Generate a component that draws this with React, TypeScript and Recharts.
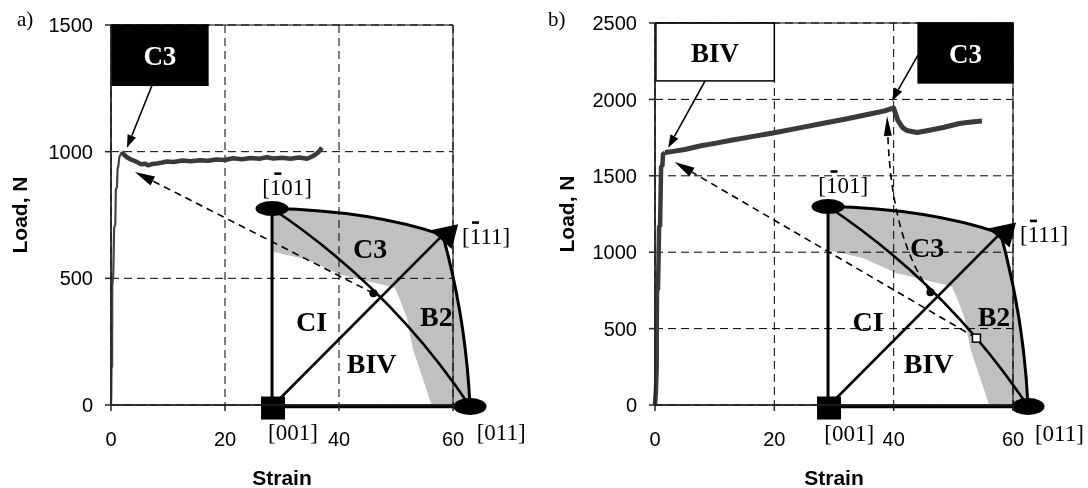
import React from 'react';
import { LineChart, Line, XAxis, YAxis, CartesianGrid, ReferenceArea, Customized } from 'recharts';

type Pt = { strain: number; load: number };

// a) load-strain record, sample oriented for C3
const riseA: Pt[] = [
  { strain: 0, load: 0 },
  { strain: 0.05, load: 40 },
  { strain: 0.08, load: 146 },
  { strain: 0.2, load: 152 },
  { strain: 0.22, load: 470 },
  { strain: 0.38, load: 505 },
  { strain: 0.42, load: 540 },
  { strain: 0.55, load: 700 },
  { strain: 0.75, load: 711 },
  { strain: 0.85, load: 850 },
  { strain: 1.05, load: 861 },
  { strain: 1.15, load: 930 },
  { strain: 1.3, load: 945 },
  { strain: 1.45, load: 978 },
  { strain: 1.9, load: 999 },
];

const flowA: Pt[] = [
  { strain: 1.9, load: 999 },
  { strain: 2.3, load: 988 },
  { strain: 2.8, load: 978 },
  { strain: 3.4, load: 970 },
  { strain: 3.9, load: 966 },
  { strain: 4.6, load: 958 },
  { strain: 5.3, load: 950 },
  { strain: 6.0, load: 952 },
  { strain: 6.5, load: 946 },
  { strain: 7.2, load: 951 },
  { strain: 8.0, load: 953 },
  { strain: 9.0, load: 957 },
  { strain: 9.8, load: 961 },
  { strain: 11, load: 959 },
  { strain: 12.5, load: 965 },
  { strain: 14, load: 962 },
  { strain: 15.6, load: 966 },
  { strain: 17, load: 964 },
  { strain: 18.5, load: 969 },
  { strain: 20, load: 967 },
  { strain: 21.4, load: 974 },
  { strain: 23, load: 970 },
  { strain: 24.5, load: 975 },
  { strain: 26, load: 972 },
  { strain: 27.3, load: 978 },
  { strain: 28.5, load: 973 },
  { strain: 30, load: 976 },
  { strain: 31.5, load: 972 },
  { strain: 33, load: 977 },
  { strain: 34.4, load: 972 },
  { strain: 35.2, load: 980 },
  { strain: 35.8, load: 988 },
  { strain: 36.4, load: 998 },
  { strain: 37, load: 1016 },
];

// b) load-strain record, sample oriented for BIV
const riseB: Pt[] = [
  { strain: 0, load: 0 },
  { strain: 0.15, load: 90 },
  { strain: 0.28, load: 249 },
  { strain: 0.3, load: 500 },
  { strain: 0.34, load: 753 },
  { strain: 0.5, load: 760 },
  { strain: 0.62, load: 1000 },
  { strain: 0.68, load: 1165 },
  { strain: 0.85, load: 1175 },
  { strain: 0.95, load: 1400 },
  { strain: 1.02, load: 1558 },
  { strain: 1.25, load: 1570 },
  { strain: 1.34, load: 1640 },
  { strain: 1.7, load: 1652 },
];

const flowB: Pt[] = [
  { strain: 1.7, load: 1652 },
  { strain: 3, load: 1660 },
  { strain: 5, load: 1672 },
  { strain: 7.5, load: 1695 },
  { strain: 10, load: 1712 },
  { strain: 13, load: 1734 },
  { strain: 16, load: 1755 },
  { strain: 20, load: 1782 },
  { strain: 24, load: 1812 },
  { strain: 28, load: 1842 },
  { strain: 32, load: 1872 },
  { strain: 36, load: 1904 },
  { strain: 38.5, load: 1925 },
  { strain: 40, load: 1944 },
  { strain: 40.7, load: 1862 },
  { strain: 41.5, load: 1815 },
  { strain: 42.2, load: 1796 },
  { strain: 43.9, load: 1783 },
  { strain: 46, load: 1798 },
  { strain: 48.3, load: 1816 },
  { strain: 51, load: 1842 },
  { strain: 53, load: 1852 },
  { strain: 54.8, load: 1858 },
];

const strainTicks = [0, 20, 40, 60];
const loadTicksA = [0, 500, 1000, 1500];
const loadTicksB = [0, 500, 1000, 1500, 2000, 2500];

const SANS = '"Liberation Sans", Arial, sans-serif';
const SERIF = '"Liberation Serif", "Times New Roman", serif';
const GREY = '#c0c0c0';

const W = 544;
const H = 488;

type Box = { left: number; top: number; right: number; bottom: number; xMax: number; yMax: number };
const boxA: Box = { left: 111, top: 25, right: 453, bottom: 405, xMax: 60, yMax: 1500 };
const boxB: Box = { left: 111, top: 23, right: 469, bottom: 405, xMax: 60, yMax: 2500 };

const sx = (b: Box, s: number) => b.left + (s / b.xMax) * (b.right - b.left);
const sy = (b: Box, l: number) => b.bottom - (l / b.yMax) * (b.bottom - b.top);

// stereographic triangle, unit frame: [001]=(0,0), [011]=(1,0), [-101]=(0,1)
const innerEdge = [
  [0.808, 0], [0.763, 0.136], [0.712, 0.288], [0.682, 0.444], [0.646, 0.54],
  [0.62, 0.598], [0.596, 0.606], [0.51, 0.626], [0.343, 0.667], [0.177, 0.742], [0, 0.783],
];
const cornerA = { strain: 28.25, load: -6, size: 198 };
const cornerB = { strain: 29.0, load: -10, size: 200 };

type Frame = { cx: number; cy: number; s: number };
const P = (f: Frame, u: number, v: number): [number, number] => [f.cx + u * f.s, f.cy - v * f.s];
const frameOf = (b: Box, c: { strain: number; load: number; size: number }): Frame => ({
  cx: sx(b, c.strain), cy: sy(b, c.load), s: c.size,
});

function GreyFill({ f }: { f: Frame }) {
  const p0 = P(f, 0, 1);
  const c1 = P(f, 0.5, 0.99);
  const p1 = P(f, 0.862, 0.866);
  const c2 = P(f, 0.979, 0.447);
  const p2 = P(f, 1, 0);
  let d = `M${p0[0]},${p0[1]} Q${c1[0]},${c1[1]} ${p1[0]},${p1[1]} Q${c2[0]},${c2[1]} ${p2[0]},${p2[1]}`;
  innerEdge.forEach(([u, v]) => {
    const q = P(f, u, v);
    d += ` L${q[0]},${q[1]}`;
  });
  d += ' Z';
  return <path d={d} fill={GREY} stroke="none" style={{ mixBlendMode: 'multiply' }} />;
}

function Miller({ x, y, text, anchor, barShift }: { x: number; y: number; text: string; anchor: 'start' | 'middle'; barShift: number }) {
  const fs = 23;
  return (
    <g>
      <text x={x} y={y} fontFamily={SERIF} fontSize={fs} textAnchor={anchor} fill="#000">{text}</text>
      <rect x={x + barShift * fs - 3.5} y={y - 0.97 * fs} width={7} height={2.6} fill="#000" />
    </g>
  );
}

function Triangle({ f }: { f: Frame }) {
  const p = (u: number, v: number) => P(f, u, v);
  const [ax, ay] = p(0, 0);
  const [bx, by] = p(1, 0);
  const [tx, ty] = p(0, 1);
  const [kx, ky] = p(0.862, 0.866);
  const c1 = p(0.5, 0.99);
  const c2 = p(0.979, 0.447);
  const c3 = p(0.6, 0.6);
  const tri = [p(0.8, 0.89), p(0.94, 0.92), p(0.908, 0.795)];
  const dot = p(0.512, 0.572);
  const big = { fontFamily: SERIF, fontWeight: 700, fontSize: 28, textAnchor: 'middle' as const, fill: '#000' };
  const lbl = (u: number, v: number) => p(u, v);
  return (
    <g>
      <path d={`M${tx},${ty} Q${c1[0]},${c1[1]} ${kx},${ky}`} fill="none" stroke="#000" strokeWidth={3} />
      <path d={`M${kx},${ky} Q${c2[0]},${c2[1]} ${bx},${by}`} fill="none" stroke="#000" strokeWidth={3} />
      <line x1={ax} y1={ay} x2={tx} y2={ty} stroke="#000" strokeWidth={3} />
      <line x1={ax} y1={ay} x2={bx} y2={by} stroke="#000" strokeWidth={3.5} />
      <line x1={ax} y1={ay} x2={kx} y2={ky} stroke="#000" strokeWidth={2.6} />
      <path d={`M${tx},${ty} Q${c3[0]},${c3[1]} ${bx},${by}`} fill="none" stroke="#000" strokeWidth={2.6} />
      <polygon points={tri.map((q) => q.join(',')).join(' ')} fill="#000" />
      <ellipse cx={tx} cy={ty} rx={16.5} ry={7.5} fill="#000" />
      <ellipse cx={bx} cy={by} rx={16.5} ry={8.5} fill="#000" />
      <rect x={ax - 11} y={ay - 10} width={24} height={23} fill="#000" />
      <circle cx={dot[0]} cy={dot[1]} r={4} fill="#000" />
      <text x={lbl(0.495, 0.795)[0]} y={lbl(0.495, 0.795)[1] + 9} {...big}>C3</text>
      <text x={lbl(0.2, 0.425)[0]} y={lbl(0.2, 0.425)[1] + 9} {...big}>CI</text>
      <text x={lbl(0.503, 0.215)[0]} y={lbl(0.503, 0.215)[1] + 9} {...big}>BIV</text>
      <text x={lbl(0.83, 0.45)[0]} y={lbl(0.83, 0.45)[1] + 9} {...big}>B2</text>
      <Miller x={p(0.076, 1.07)[0]} y={p(0.076, 1.07)[1]} text="[101]" anchor="middle" barShift={-0.4} />
      <Miller x={p(0.96, 0.823)[0]} y={p(0.96, 0.823)[1]} text="[111]" anchor="start" barShift={0.583} />
      <text x={p(0.106, -0.17)[0]} y={p(0.106, -0.17)[1]} fontFamily={SERIF} fontSize={23} textAnchor="middle" fill="#000">[001]</text>
      <text x={p(1.157, -0.17)[0]} y={p(1.157, -0.17)[1]} fontFamily={SERIF} fontSize={23} textAnchor="middle" fill="#000">[011]</text>
    </g>
  );
}

function Arrow({ from, to, dashed, head, width }: { from: number[]; to: number[]; dashed?: boolean; head: number; width: number }) {
  const dx = to[0] - from[0];
  const dy = to[1] - from[1];
  const L = Math.hypot(dx, dy);
  const ux = dx / L;
  const uy = dy / L;
  const bx = to[0] - ux * head;
  const by = to[1] - uy * head;
  const nx = -uy * width / 2;
  const ny = ux * width / 2;
  return (
    <g>
      <line x1={from[0]} y1={from[1]} x2={bx} y2={by} stroke="#000" strokeWidth={1.6} strokeDasharray={dashed ? '7 5' : undefined} />
      <polygon points={`${to[0]},${to[1]} ${bx + nx},${by + ny} ${bx - nx},${by - ny}`} fill="#000" />
    </g>
  );
}

function LabelBox({ b, x1, x2, yTop, yBot, text, dark }: { b: Box; x1: number; x2: number; yTop: number; yBot: number; text: string; dark: boolean }) {
  const X1 = sx(b, x1);
  const X2 = sx(b, x2);
  const Y1 = sy(b, yTop);
  const Y2 = sy(b, yBot);
  return (
    <g>
      <rect x={X1} y={Y1} width={X2 - X1} height={Y2 - Y1} fill={dark ? '#000' : '#fff'} stroke="#000" strokeWidth={1.5} />
      <text x={(X1 + X2) / 2} y={(Y1 + Y2) / 2 + 10} fontFamily={SERIF} fontWeight={700} fontSize={27} textAnchor="middle" fill={dark ? '#fff' : '#000'}>{text}</text>
    </g>
  );
}

const fA = frameOf(boxA, cornerA);
const fB = frameOf(boxB, cornerB);

function FillA() {
  return <GreyFill f={fA} />;
}
function FillB() {
  return <GreyFill f={fB} />;
}

function InkA() {
  const dot = P(fA, 0.512, 0.572);
  return (
    <g>
      <text x={17} y={26} fontFamily={SERIF} fontSize={21} fill="#000">a)</text>
      <Triangle f={fA} />
      <Arrow from={dot} to={[sx(boxA, 4.2), sy(boxA, 920)]} dashed head={20} width={10} />
      <LabelBox b={boxA} x1={0.15} x2={17} yTop={1500} yBot={1262} text="C3" dark />
      <Arrow from={[sx(boxA, 7.2), sy(boxA, 1262)]} to={[sx(boxA, 2.8), sy(boxA, 1015)]} head={13} width={9} />
    </g>
  );
}

function InkB() {
  const dot = P(fB, 0.512, 0.572);
  const sq = P(fB, 0.742, 0.342);
  const tip = [sx(boxB, 38.9), sy(boxB, 1892)];
  const ctrl = [sx(boxB, 39.7), sy(boxB, 1082)];
  const dx = tip[0] - ctrl[0];
  const dy = tip[1] - ctrl[1];
  const L = Math.hypot(dx, dy);
  const hb = [tip[0] - (dx / L) * 20, tip[1] - (dy / L) * 20];
  const n = [(-dy / L) * 4, (dx / L) * 4];
  return (
    <g>
      <text x={4} y={26} fontFamily={SERIF} fontSize={21} fill="#000">b)</text>
      <Triangle f={fB} />
      <Arrow from={sq} to={[sx(boxB, 3.3), sy(boxB, 1590)]} dashed head={20} width={10} />
      <path d={`M${dot[0]},${dot[1]} Q${ctrl[0]},${ctrl[1]} ${hb[0]},${hb[1]}`} fill="none" stroke="#000" strokeWidth={1.6} strokeDasharray="7 5" />
      <polygon points={`${tip[0]},${tip[1]} ${hb[0] + n[0]},${hb[1] + n[1]} ${hb[0] - n[0]},${hb[1] - n[1]}`} fill="#000" />
      <rect x={sq[0] - 4} y={sq[1] - 4} width={8} height={8} fill="#fff" stroke="#000" strokeWidth={1.5} />
      <LabelBox b={boxB} x1={0.15} x2={20} yTop={2500} yBot={2121} text="BIV" dark={false} />
      <Arrow from={[sx(boxB, 8.4), sy(boxB, 2121)]} to={[sx(boxB, 2.2), sy(boxB, 1683)]} head={13} width={9} />
      <LabelBox b={boxB} x1={44.1} x2={60} yTop={2500} yBot={2108} text="C3" dark />
      <Arrow from={[sx(boxB, 44.1), sy(boxB, 2291)]} to={[sx(boxB, 39.7), sy(boxB, 1990)]} head={13} width={9} />
    </g>
  );
}

const tickStyle = { fontSize: 20, fontFamily: SANS, fill: '#000' };
const titleStyle = { fontSize: 21, fontFamily: SANS, fontWeight: 700, fill: '#000' };

function Panel({ box, loadTicks, rise, flow, thinRise, Fill, Ink, yLabelOffset }: any) {
  return (
    <LineChart
      width={W}
      height={H}
      margin={{ top: box.top, right: W - box.right, bottom: 3, left: 11 }}
    >
      <Customized component={<Fill />} />
      <CartesianGrid stroke="#000" strokeDasharray="8 5" strokeWidth={1} />
      <ReferenceArea x1={0} x2={60} y1={0} y2={box.yMax} fill="none" stroke="#000" strokeWidth={1} />
      <XAxis
        type="number"
        dataKey="strain"
        domain={[0, 60]}
        ticks={strainTicks}
        height={80}
        stroke="#222"
        strokeWidth={1.5}
        tickMargin={21}
        tick={tickStyle}
        label={{ value: 'Strain', position: 'insideBottom', offset: 0, style: titleStyle }}
      />
      <YAxis
        type="number"
        dataKey="load"
        domain={[0, box.yMax]}
        ticks={loadTicks}
        width={100}
        stroke="#222"
        strokeWidth={1.5}
        tickMargin={12}
        tick={tickStyle}
        label={{ value: 'Load, N', angle: -90, position: 'insideLeft', offset: yLabelOffset, style: { ...titleStyle, textAnchor: 'middle' } }}
      />
      <Line data={rise} dataKey="load" type="linear" dot={false} stroke={thinRise ? '#444' : '#3a3a3a'} strokeWidth={thinRise ? 2.2 : 4.5} isAnimationActive={false} />
      <Line data={flow} dataKey="load" type="linear" dot={false} stroke="#3a3a3a" strokeWidth={thinRise ? 4.5 : 5} strokeLinejoin="round" isAnimationActive={false} />
      <Customized component={<Ink />} />
    </LineChart>
  );
}

export default function App() {
  return (
    <div style={{ position: 'absolute', left: 0, top: 0, width: 1088, height: 488, background: '#fff' }}>
      <div style={{ position: 'absolute', left: 0, top: 0 }}>
        <Panel box={boxA} loadTicks={loadTicksA} rise={riseA} flow={flowA} thinRise Fill={FillA} Ink={InkA} yLabelOffset={9} />
      </div>
      <div style={{ position: 'absolute', left: 544, top: 0 }}>
        <Panel box={boxB} loadTicks={loadTicksB} rise={riseB} flow={flowB} thinRise={false} Fill={FillB} Ink={InkB} yLabelOffset={12} />
      </div>
    </div>
  );
}
